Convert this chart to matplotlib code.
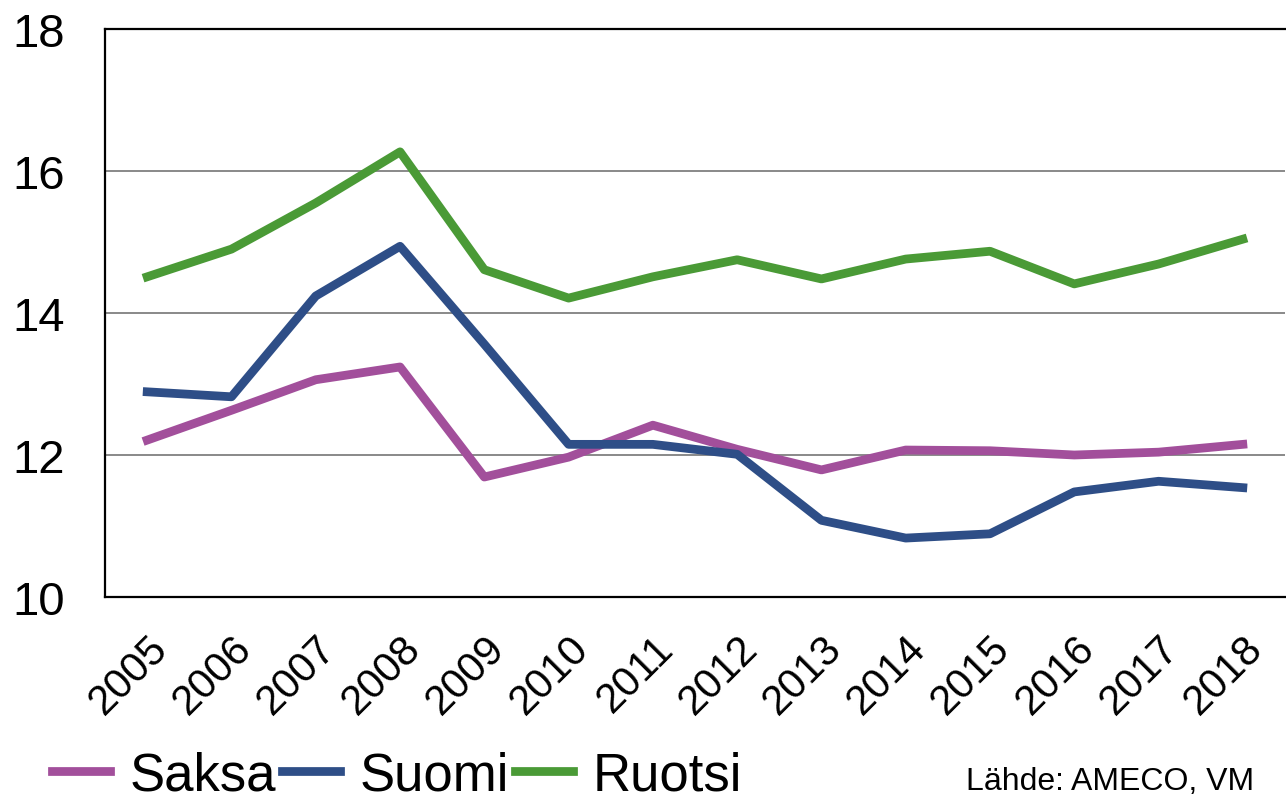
import numpy as np
import matplotlib.pyplot as plt

plt.rcParams['font.family'] = ['Liberation Sans', 'DejaVu Sans']

years = ['2005', '2006', '2007', '2008', '2009', '2010', '2011',
         '2012', '2013', '2014', '2015', '2016', '2017', '2018']
saksa = [12.21, 12.63, 13.06, 13.24, 11.69, 11.97, 12.42,
         12.08, 11.79, 12.07, 12.06, 12.00, 12.04, 12.15]
suomi = [12.89, 12.82, 14.24, 14.94, 13.56, 12.15, 12.15,
         12.01, 11.08, 10.83, 10.89, 11.48, 11.63, 11.54]
ruotsi = [14.51, 14.90, 15.55, 16.27, 14.61, 14.21, 14.51,
          14.75, 14.48, 14.76, 14.87, 14.41, 14.69, 15.04]

fig = plt.figure(figsize=(12.86, 8.03), dpi=100)
ax = fig.add_axes([0.0817, 0.2553, 0.9175, 0.7073])

x = np.arange(len(years))
lw = 6.3
ax.plot(x, saksa, color='#A24F9B', lw=lw, label='Saksa', solid_joinstyle='round')
ax.plot(x, suomi, color='#2E4E87', lw=lw, label='Suomi', solid_joinstyle='round')
ax.plot(x, ruotsi, color='#4A9A36', lw=lw, label='Ruotsi', solid_joinstyle='round')

ax.set_xlim(-0.5, len(years) - 0.5)
ax.set_ylim(10, 18)
ax.set_yticks([10, 12, 14, 16, 18])
ax.set_xticks(x)
ax.set_xticklabels(years, rotation=45, ha='right', rotation_mode='anchor')
ax.tick_params(axis='y', length=0, pad=29, labelsize=34)
ax.tick_params(axis='x', length=0, pad=22, labelsize=30)
ax.grid(axis='y', color='#808080', lw=1.3)
ax.set_axisbelow(True)

ax.spines['right'].set_visible(False)
for s in ['left', 'bottom', 'top']:
    ax.spines[s].set_color('black')
    ax.spines[s].set_linewidth(1.6)

fig.legend(loc='center left', bbox_to_anchor=(0.0404, 0.033), ncol=3,
           frameon=False, fontsize=38, handlelength=1.1,
           handletextpad=0.38, columnspacing=0.1, borderpad=0,
           borderaxespad=0)

fig.text(0.975, 0.008, 'Lähde: AMECO, VM', fontsize=23, ha='right', va='bottom')

fig.savefig('out.png', dpi=100)
